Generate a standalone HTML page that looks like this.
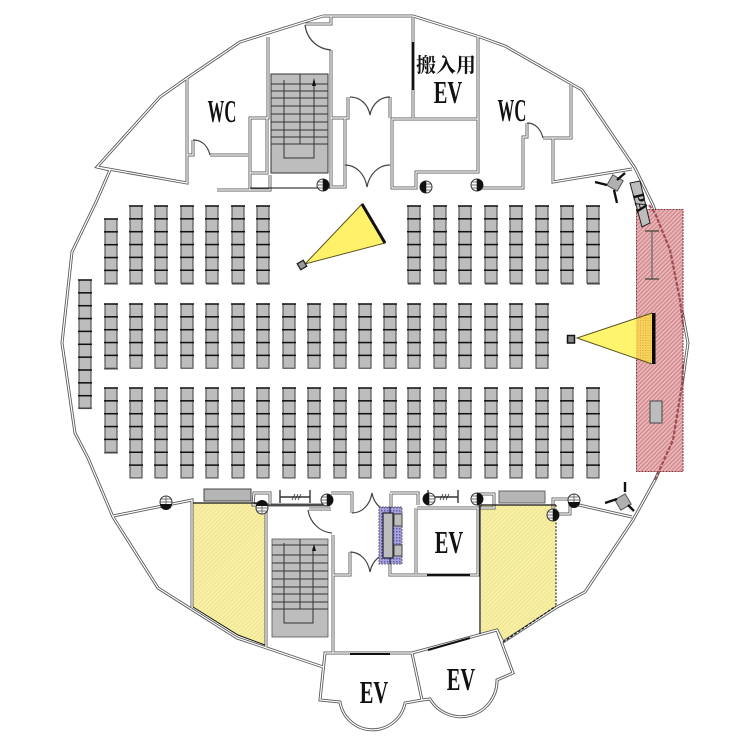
<!DOCTYPE html>
<html><head><meta charset="utf-8"><title>Floor plan</title>
<style>html,body{margin:0;padding:0;background:#fff;width:750px;height:750px;overflow:hidden}svg{display:block;filter:blur(.35px)}
text{font-family:"Liberation Serif","Noto Serif CJK SC",serif;font-weight:bold;fill:#111;text-anchor:middle}</style></head><body>
<svg width="750" height="750" viewBox="0 0 750 750" xmlns="http://www.w3.org/2000/svg">
<defs>
<pattern id="pk" width="3" height="3" patternUnits="userSpaceOnUse" patternTransform="rotate(45)"><rect width="3" height="3" fill="#e8b6b8"/><rect width="1.1" height="3" fill="#cf8286"/></pattern>
<pattern id="yl" width="3" height="3" patternUnits="userSpaceOnUse" patternTransform="rotate(45)"><rect width="3" height="3" fill="#f7f0a6"/><rect width="1" height="3" fill="#efe48e"/></pattern>
<pattern id="bl" width="3" height="3" patternUnits="userSpaceOnUse"><rect width="3" height="3" fill="#a9a5dc"/><rect width="1.5" height="1.5" fill="#5f59b0"/></pattern>
<pattern id="og" width="2.5" height="2.5" patternUnits="userSpaceOnUse"><rect width="2.5" height="2.5" fill="#f6d45c"/><rect width="1" height="1" fill="#e6a23c"/></pattern>
<g id="s"><rect x="0" y="0" width="12" height="12.85" fill="#bdbdbd" stroke="#4a4a4a" stroke-width="1.100"/><path d="M-1 0H13" stroke="#111" stroke-width="1.500"/></g>
<g id="c5"><use href="#s"/><use href="#s" y="12.85"/><use href="#s" y="25.7"/><use href="#s" y="38.55"/><use href="#s" y="51.4"/></g>
<g id="c6"><use href="#c5"/><use href="#s" y="64.25"/></g>
<g id="c7"><use href="#c6"/><use href="#s" y="77.1"/></g>
<g id="cl"><circle r="6" fill="#fff" stroke="#333" stroke-width="1"/><path d="M-6 0H6M0-6V6M-5-3H5M-5 3H5" stroke="#444" stroke-width=".7"/></g>
<g id="w" fill="none" stroke-linejoin="miter">
<path d="M323 16H413L480 37L505 46L582 90L635 168L653 205L670 250L680 300L688 343L682 385L673 440L655 480L633 520L585 592L557 607L503 642L497 630L412 653L325 653L320 700L340 702A33 33 0 0 0 405 703L422 700L430 699A36 36 0 0 0 497 680L513 673L497 630"/>
<path d="M412 653L422 700M323 667L237 638L158 588L113 517L88 458L75 433L62 343L72 252L97 200L110 170L97 167L160 97L187 78L240 42L323 16"/>
<path d="M97 167L187 183V78M113 516L192 500V607"/>
<path d="M268 37V118H250V173H267V118M250 173V190H217M250 190H270V175M331 50V187H345V118H331M305 24H331V16M187 155H193V140M210 155H248M345 118H348V97M390 97V118"/>
<path d="M413 17V118M478 36V172H416V188H392V119H478M478 188H523V137H527V123M543 138H571V85M553 138V182L632 169"/>
<path d="M254 493H270V505H253ZM268 505H330M309 509H331M333 535V653M333 575H350V552M331 493H352V513M391 493V510M390 493H418V505M390 558V575H478V508H417M416 508V574"/>
<path d="M266 505V647M480 494H494V508H480ZM553 499H570V514H553ZM570 503L632 517"/>
</g>
</defs>

<rect width="750" height="750" fill="#fff"/>
<polygon points="193,503 265,503 265,645 238,635 193,607" fill="url(#yl)"/>
<polygon points="481,505 556,505 556,606 503,642 495,630 481,633" fill="url(#yl)"/>
<use href="#w" stroke="#5c5c5c" stroke-width="3"/>
<use href="#w" stroke="#fff" stroke-width="1.2"/>

<!-- thin door arcs / black edges -->
<g fill="none" stroke="#444" stroke-width="1.2">
<path d="M305 25C307 40 318 49 331 50M193 140C203 140 208 147 210 155M527 123C536 123 541 130 543 138"/>
<path d="M350 97C360 97 368 104 370 115C372 104 380 97 390 97M345 165C356 165 365 174 367 187C369 175 378 165 390 165"/>
<path d="M308 510C310 523 320 532 332 533M352 513C362 513 370 505 372 493C374 505 383 511 392 513M350 552C360 552 368 560 370 572C372 560 382 553 392 552"/>
</g>
<g stroke="#111" fill="none">
<path d="M413 42V90" stroke-width="2.5"/>
<path d="M350 654H390M427 575H470M428 650L470 638" stroke-width="2"/>
<path d="M480 505V634M193 503H265M481 505H556" stroke-width="1.2"/>
<path d="M193 607L238 635L265 645M250 188H330M268 505H330" stroke-width="1"/>
<path d="M556 505V606" stroke-dasharray="2 1.500" stroke-width="1"/>
<path d="M503 642L556 606" stroke-dasharray="3 1.500" stroke-width="1.2"/>
</g>

<!-- stairs -->
<rect x="271" y="74" width="57" height="99" fill="#bdbdbd" stroke="#333" stroke-width="1"/>
<path d="M271 84H328M271 91H328M271 98H328M271 106H328M271 114H328M271 122H328M271 130H328M271 137H328M271 144H328M300 74V144M284 80V158H314V84" fill="none" stroke="#333" stroke-width="1"/>
<polygon points="314,78 312,86 316,86" fill="#111"/>
<rect x="272" y="539" width="56" height="98" fill="#bdbdbd" stroke="#555" stroke-width=".8"/>
<path d="M272 545H328M272 555H328M272 563H328M272 571H328M272 579H328M272 587H328M272 594H328M272 602H328M272 609H328M300 539V609M284 543V623H313V548" fill="none" stroke="#333" stroke-width="1"/>
<polygon points="314,544 312,551 316,551" fill="#111"/>

<!-- benches -->
<rect x="204" y="489" width="47" height="12" fill="#b5b5b5" stroke="#444"/>
<rect x="499" y="491" width="46" height="12" fill="#b5b5b5" stroke="#666"/>
<path d="M280 490V503M310 490V503M280 497H310M428 490V503M458 490V503M428 497H458" stroke="#333" stroke-width="1.400" fill="none"/>
<path d="M292 500L295 494M295 500L298 494M298 500L301 494M440 500L443 494M443 500L446 494M446 500L449 494" stroke="#222" stroke-width=".8"/>

<!-- circles -->
<use href="#cl" x="323" y="185"/><path d="M323 179A6 6 0 0 1 323 191Z" fill="#111"/>
<use href="#cl" x="426" y="187"/><path d="M426 181A6 6 0 0 0 426 193Z" fill="#111"/>
<use href="#cl" x="477" y="185"/><path d="M477 179A6 6 0 0 1 477 191Z" fill="#111"/>
<use href="#cl" x="166" y="502"/><path d="M160 504A6 6 0 0 0 172 504Z" fill="#111"/>
<use href="#cl" x="262" y="508"/><path d="M256 506A6 6 0 0 1 268 506Z" fill="#111"/>
<use href="#cl" x="327" y="500"/><path d="M327 494A6 6 0 0 1 327 506Z" fill="#111"/>
<use href="#cl" x="429" y="499"/><path d="M429 493A6 6 0 0 0 429 505Z" fill="#111"/>
<use href="#cl" x="477" y="499"/><path d="M477 493A6 6 0 0 1 477 505Z" fill="#111"/>
<use href="#cl" x="553" y="515"/><path d="M553 509A6 6 0 0 1 553 521Z" fill="#111"/>
<use href="#cl" x="574" y="500"/><path d="M568 502A6 6 0 0 0 580 502Z" fill="#111"/>

<!-- seats: top -->
<use href="#c5" x="105" y="219"/>
<use href="#c6" x="130" y="206"/><use href="#c6" x="155" y="206"/><use href="#c6" x="181" y="206"/><use href="#c6" x="206" y="206"/><use href="#c6" x="232" y="206"/><use href="#c6" x="257" y="206"/>
<use href="#c6" x="408" y="206"/><use href="#c6" x="434" y="206"/><use href="#c6" x="459" y="206"/><use href="#c6" x="485" y="206"/><use href="#c6" x="510" y="206"/><use href="#c6" x="536" y="206"/><use href="#c6" x="561" y="206"/><use href="#c6" x="587" y="206"/>
<!-- middle -->
<use href="#c5" x="105" y="304"/><use href="#c5" x="130" y="304"/><use href="#c5" x="155" y="304"/><use href="#c5" x="181" y="304"/><use href="#c5" x="206" y="304"/><use href="#c5" x="232" y="304"/><use href="#c5" x="257" y="304"/><use href="#c5" x="283" y="304"/><use href="#c5" x="308" y="304"/><use href="#c5" x="334" y="304"/><use href="#c5" x="359" y="304"/><use href="#c5" x="384" y="304"/><use href="#c5" x="408" y="304"/><use href="#c5" x="434" y="304"/><use href="#c5" x="459" y="304"/><use href="#c5" x="485" y="304"/><use href="#c5" x="510" y="304"/><use href="#c5" x="536" y="304"/>
<!-- bottom -->
<use href="#c5" x="105" y="388"/>
<use href="#c7" x="130" y="388"/><use href="#c7" x="155" y="388"/><use href="#c7" x="181" y="388"/><use href="#c7" x="206" y="388"/><use href="#c7" x="232" y="388"/><use href="#c7" x="257" y="388"/><use href="#c7" x="283" y="388"/><use href="#c7" x="308" y="388"/><use href="#c7" x="334" y="388"/><use href="#c7" x="359" y="388"/><use href="#c7" x="384" y="388"/><use href="#c7" x="408" y="388"/><use href="#c7" x="434" y="388"/><use href="#c7" x="459" y="388"/><use href="#c7" x="485" y="388"/><use href="#c7" x="510" y="388"/><use href="#c7" x="536" y="388"/><use href="#c7" x="561" y="388"/><use href="#c7" x="587" y="388"/>
<!-- left column -->
<use href="#c5" x="79" y="280"/><use href="#c5" x="79" y="344.3"/>
<path d="M78 408H92" stroke="#444" stroke-width="1"/><path d="M104 284H118M104 369H118M104 453H118M129 284H143M155 284H168M181 284H194M206 284H219M232 284H245M257 284H270M408 284H421M434 284H447M459 284H472M485 284H498M510 284H523M536 284H549M561 284H574M587 284H600" stroke="#444" stroke-width="1"/>

<!-- stage -->
<rect x="636.5" y="209.5" width="46.500" height="262" fill="url(#pk)" stroke="#8a3338" stroke-width="1" stroke-dasharray="2 1"/>
<path d="M649 205L655 213L670 250L680 300L683 325M683 365L682 385L673 440L655 480" fill="none" stroke="#8b3a40" stroke-width="2.200" stroke-dasharray="4 1.500" opacity=".8"/>
<path d="M652 231V279" stroke="#8a7a7a" stroke-width="1.800" fill="none"/>
<path d="M645 231H659M645 279H659" stroke="#443" stroke-width="1.200" fill="none"/>
<rect x="650" y="401" width="12" height="22" fill="#bdbdbd" stroke="#444"/>
<polygon points="577,338 636,319 636,358" fill="#fff46e"/>
<polygon points="636,319 652,313 652,364 636,358" fill="url(#og)"/>
<path d="M652 313L577 338L652 364" fill="none" stroke="#5a5320" stroke-width="1"/>
<rect x="652" y="313" width="3.500" height="51" fill="#0a0a0a"/>
<rect x="567.5" y="335.5" width="7" height="7.500" fill="#888" stroke="#111" stroke-width="1.500"/>

<!-- upper cone -->
<polygon points="305,264 362,204 385,243" fill="#fff26a" stroke="#5a5320" stroke-width="1"/>
<path d="M362 204L385 243" stroke="#111" stroke-width="3"/>
<rect x="298.500" y="261.500" width="7" height="7" fill="#999" stroke="#222" stroke-width="1.300" transform="rotate(-30 302 265)"/>

<!-- speakers -->
<g transform="rotate(30 615 183)"><rect x="609" y="177" width="12" height="12" fill="#b0b0b0" stroke="#555"/></g>
<path d="M595 182L607 185M625 173L617 180M617 203L614 190" stroke="#111" stroke-width="2.400" fill="none"/>
<g transform="rotate(-30 623 502)"><rect x="617" y="496" width="12" height="12" fill="#b0b0b0" stroke="#555"/></g>
<path d="M605 503L617 499M625 482L625 492M634 511L628 505" stroke="#111" stroke-width="2.400" fill="none"/>

<!-- PA -->
<polygon points="630,183 640,181 650,223 642,227" fill="#bdbdbd" stroke="#222" stroke-width="1"/>
<text transform="translate(635 204) rotate(76) scale(.9 1)" font-size="17" font-weight="normal">PA</text>

<!-- blue hatch -->
<rect x="379" y="507" width="23" height="57" fill="url(#bl)" stroke="#444" stroke-width=".8" stroke-dasharray="2 1"/>
<rect x="383" y="513" width="10" height="45" fill="#bdbdbd" stroke="#223" stroke-width="1.200"/>
<rect x="394" y="514" width="8" height="12" fill="#bdbdbd" stroke="#444"/>
<rect x="394" y="545" width="8" height="11" fill="#bdbdbd" stroke="#444"/>
<path d="M390 507V513M390 558V564" stroke="#111" stroke-width="1"/>

<!-- labels -->
<text font-size="32" transform="translate(222 122) scale(.52 1)">WC</text>
<text font-size="32" transform="translate(512 121) scale(.52 1)">WC</text>
<text x="446" y="72" font-size="20" font-weight="normal" style="font-family:'Noto Serif CJK SC','Liberation Serif',serif">搬入用</text>
<text font-size="32" transform="translate(448 103) scale(.64 1)">EV</text>
<text font-size="32" transform="translate(449 553) scale(.64 1)">EV</text>
<text font-size="32" transform="translate(374 703) scale(.64 1)">EV</text>
<text font-size="32" transform="translate(461 690) scale(.64 1)">EV</text>
</svg>
</body></html>
